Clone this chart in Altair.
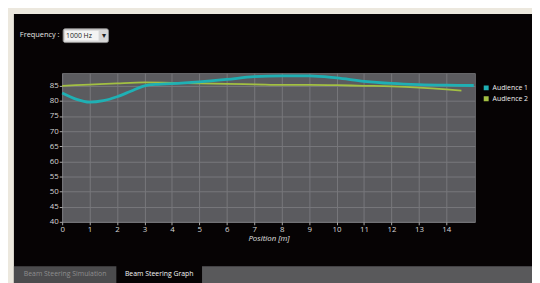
import altair as alt
import pandas as pd

# ---- data ----
pos_a1 = [0, 0.5, 1, 1.5, 2, 2.5, 3, 3.5, 4, 5, 6, 7, 8, 9, 10, 11, 12, 13, 14, 15]
val_a1 = [82.6, 80.6, 79.6, 80.1, 81.4, 83.2, 85.0, 85.5, 85.7, 86.3, 87.1, 88.0, 88.3, 88.3, 87.6, 86.5, 85.8, 85.4, 85.2, 85.1]
pos_a2 = [0, 1, 2, 3, 4, 5, 6, 7, 8, 9, 10, 11, 12, 13, 14, 14.55]
val_a2 = [85.0, 85.4, 85.8, 86.1, 86.0, 85.8, 85.6, 85.5, 85.3, 85.3, 85.2, 85.0, 84.8, 84.4, 83.8, 83.4]
series = ["Audience 1", "Audience 2"]
colors = ["#1fb0b4", "#a3c043"]
x_ticks = list(range(0, 15))
y_ticks = list(range(40, 90, 5))
x_title = "Position [m]"
freq_label = ["Frequency :"]
freq_value = ["1000 Hz"]
tabs = ["Beam Steering Simulation", "Beam Steering Graph"]

df1 = pd.DataFrame({"pos": pos_a1, "val": val_a1, "series": series[0]})
df2 = pd.DataFrame({"pos": pos_a2, "val": val_a2, "series": series[1]})

FONT = "Open Sans"
W, H = 419, 151

xs = alt.Scale(domain=[0, 15.04], nice=False, zero=False)
ys = alt.Scale(domain=[40, 89.2], nice=False, zero=False)
cs = alt.Scale(domain=series, range=colors)

xax = alt.Axis(values=x_ticks, title=x_title, labelFlush=False, labelPadding=1,
               tickSize=3, titlePadding=1, titleFontStyle="italic")
yax = alt.Axis(values=y_ticks, title=None, labelPadding=1, tickSize=3)

def line(df, sw):
    return alt.Chart(df).mark_line(interpolate="monotone", strokeWidth=sw).encode(
        x=alt.X("pos:Q", scale=xs, axis=xax),
        y=alt.Y("val:Q", scale=ys, axis=yax),
        color=alt.Color("series:N", scale=cs,
                        legend=alt.Legend(title=None, orient="none", legendX=427, legendY=11,
                                          symbolType="square", symbolSize=4, symbolStrokeWidth=3,
                                          labelFontSize=7, labelColor="#f0f0f0", labelFont=FONT,
                                          labelOffset=3, rowPadding=3, padding=0, clipHeight=8)),
    )

one = lambda t: pd.DataFrame({"t": t})

def rect(x, x2, y, y2, fill, **kw):
    return alt.Chart(one(["r"])).mark_rect(fill=fill, **kw).encode(
        x=alt.value(x), x2=alt.value(x2), y=alt.value(y), y2=alt.value(y2))

def text(t, x, y, color, size=7, align="left"):
    return alt.Chart(one(t)).mark_text(font=FONT, fontSize=size, color=color, align=align,
                                       baseline="middle").encode(
        text="t:N", x=alt.value(x), y=alt.value(y))

decor = [
    rect(-70, 490, -70, -60, "#ece8de"),
    rect(-70, -49, -70, 220, "#ece8de"),
    text(freq_label, -43, -39, "#e6e6e6", 7.5),
    rect(1, 47, -45, -31, "#d6d6d6", stroke="#8a8a8a", strokeWidth=1, cornerRadius=2),
    rect(3, 37, -43, -33, "#f4f4f4"),
    text(freq_value, 4, -38, "#222222", 7),
    text(["▾"], 42, -38, "#222222", 8, "center"),
    rect(142, 490, 196, 220, "#59595b"),
    rect(-49, 55, 196, 220, "#4b4b4d"),
    text([tabs[0]], 3, 204, "#8e8e8e", 7, "center"),
    text([tabs[1]], 98.5, 204, "#f4f4f4", 7, "center"),
]

chart = alt.layer(line(df2, 1.8), line(df1, 2.8), *decor).properties(
    width=W, height=H,
    padding={"left": 55, "top": 64, "right": 58, "bottom": 60},
    autosize=alt.AutoSizeParams(type="none"),
    background="#060304",
).configure_view(
    fill="#5b5b5f", stroke="#6c6c70", strokeWidth=1
).configure_axis(
    labelFont=FONT, labelFontSize=8, labelColor="#d6d6d6",
    titleFont=FONT, titleFontSize=8, titleColor="#e0e0e0", titleFontWeight="normal",
    gridColor="#78787c", gridWidth=1, gridOpacity=1,
    tickColor="#aaaaaa", domain=False,
)

chart.save("out.html", embed_options={"renderer": "svg", "actions": False})
